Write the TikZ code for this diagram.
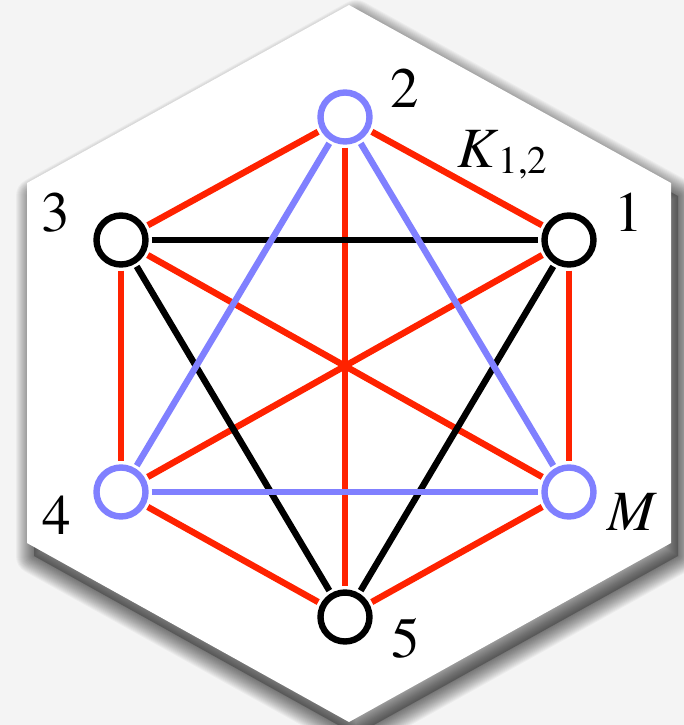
\documentclass[tikz,border=0pt]{standalone}
\usepackage{fontspec}
\newfontfamily\lblfont{texgyretermes}[Extension=.otf,UprightFont=*-regular,ItalicFont=*-italic]
\usepackage{xcolor}
\usetikzlibrary{positioning}
\definecolor{edgered}{HTML}{FF2200}
\definecolor{edgeblue}{HTML}{8080FF}
\definecolor{paper}{HTML}{F4F4F4}

\begin{document}
\begin{tikzpicture}[x=0.5pt,y=-0.5pt,
  vtx/.style={circle,draw,fill=white,line width=3.2pt,minimum size=24.5pt,inner sep=0pt},
  redge/.style={draw=edgered,line width=3.2pt,shorten <=1.5pt,shorten >=1.5pt},
  kedge/.style={draw=black,line width=3.2pt,shorten <=1.5pt,shorten >=1.5pt},
  bedge/.style={draw=edgeblue,line width=3.2pt,shorten <=1.5pt,shorten >=1.5pt},
  lbl/.style={font=\lblfont\fontsize{28.5}{30}\selectfont,inner sep=0pt}]
  \fill[paper] (0,0) rectangle (684,725);
  \useasboundingbox (0,0) rectangle (684,725);
  % soft shadow under the hexagon
  \fill[black,opacity=0.25,shift={(7,13)}] (349,5) -- (671,183) -- (671,543) -- (349,722) -- (27,543) -- (27,183) -- cycle;
  \foreach \w in {2,4,...,36} {
    \draw[black,opacity=0.035,line width=\w*0.5pt,line join=round,shift={(7,13)}] (349,5) -- (671,183) -- (671,543) -- (349,722) -- (27,543) -- (27,183) -- cycle;
  }
  \fill[white] (349,5) -- (671,183) -- (671,543) -- (349,722) -- (27,543) -- (27,183) -- cycle;

  \node[vtx,draw=edgeblue] (v2) at (345,117) {};
  \node[vtx] (v1) at (569,240) {};
  \node[vtx] (v3) at (121,240) {};
  \node[vtx,draw=edgeblue] (v4) at (121,492) {};
  \node[vtx,draw=edgeblue] (vM) at (569,492) {};
  \node[vtx] (v5) at (345,617) {};

  \draw[redge] (v2) -- (v3);
  \draw[redge] (v2) -- (v1);
  \draw[redge] (v2) -- (v5);
  \draw[redge] (v3) -- (v4);
  \draw[redge] (v1) -- (vM);
  \draw[redge] (v4) -- (v5);
  \draw[redge] (vM) -- (v5);
  \draw[redge] (v3) -- (vM);
  \draw[redge] (v1) -- (v4);
  \draw[kedge] (v3) -- (v1);
  \draw[kedge] (v3) -- (v5);
  \draw[kedge] (v1) -- (v5);
  \draw[bedge] (v2) -- (v4);
  \draw[bedge] (v2) -- (vM);
  \draw[bedge] (v4) -- (vM);

  \node[lbl] (l2) at (405,88) {2};
  \node[lbl] (l1) at (629,212) {1};
  \node[lbl] (l3) at (56,213) {3};
  \node[lbl] (l4) at (57,515) {4};
  \node[lbl] (lM) at (632,512) {\textit{M}};
  \node[lbl] (l5) at (406,638) {5};
  \node[lbl,anchor=base west] (lK) at (457,167) {\textit{K}\raisebox{-3pt}{\fontsize{19.5}{20}\selectfont 1,2}};
\end{tikzpicture}
\end{document}
